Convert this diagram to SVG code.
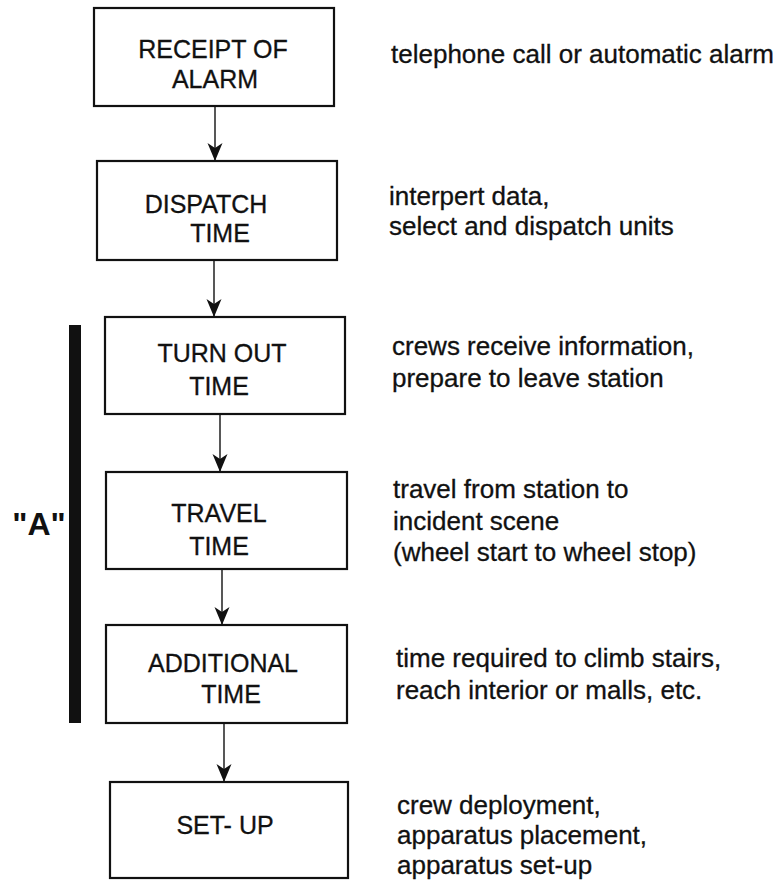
<svg xmlns="http://www.w3.org/2000/svg" width="783" height="882" viewBox="0 0 783 882">
<style>
.box{fill:#fff;stroke:#111;stroke-width:2.2}
.lbl{font-family:"Liberation Sans",Arial,sans-serif;font-size:25px;fill:#111;stroke:#111;stroke-width:0.3;text-anchor:middle}
.desc{font-family:"Liberation Sans",Arial,sans-serif;font-size:26px;fill:#111;stroke:#111;stroke-width:0.3}
.conn{stroke:#111;stroke-width:1.4;fill:none;marker-end:url(#ah)}
</style>
<defs>
<marker id="ah" markerUnits="userSpaceOnUse" markerWidth="20" markerHeight="16" refX="18" refY="7.5" orient="auto">
<path d="M0,0 L18,7.5 L0,15 L5,7.5 Z" fill="#111"/>
</marker>
</defs>
<rect width="783" height="882" fill="#fff"/>
<g id="connectors">
<line class="conn" x1="215" y1="106" x2="215" y2="161"/>
<line class="conn" x1="214" y1="260" x2="214" y2="317"/>
<line class="conn" x1="220" y1="414" x2="220" y2="472"/>
<line class="conn" x1="222" y1="569" x2="222" y2="625"/>
<line class="conn" x1="224" y1="723" x2="224" y2="782"/>
</g>
<g id="bracketA">
<rect x="69" y="325" width="12" height="398" fill="#111"/>
<text x="39" y="535" font-family="'Liberation Sans',Arial,sans-serif" font-size="32" font-weight="bold" fill="#111" text-anchor="middle">"A"</text>
</g>
<g id="receipt">
<rect class="box" x="94" y="8" width="240" height="98"/>
<text class="lbl" x="213" y="58">RECEIPT OF</text>
<text class="lbl" x="215" y="88">ALARM</text>
<text class="desc" x="391" y="63">telephone call or automatic alarm</text>
</g>
<g id="dispatch">
<rect class="box" x="97" y="161" width="240" height="99"/>
<text class="lbl" x="206" y="213">DISPATCH</text>
<text class="lbl" x="220" y="242">TIME</text>
<text class="desc" x="389" y="205">interpert data,</text>
<text class="desc" x="389" y="235">select and dispatch units</text>
</g>
<g id="turnout">
<rect class="box" x="105" y="317" width="240" height="97"/>
<text class="lbl" x="222" y="362">TURN OUT</text>
<text class="lbl" x="219" y="395">TIME</text>
<text class="desc" x="392" y="355">crews receive information,</text>
<text class="desc" x="392" y="387">prepare to leave station</text>
</g>
<g id="travel">
<rect class="box" x="106" y="472" width="241" height="97"/>
<text class="lbl" x="219" y="522">TRAVEL</text>
<text class="lbl" x="219" y="555">TIME</text>
<text class="desc" x="393" y="498">travel from station to</text>
<text class="desc" x="393" y="530">incident scene</text>
<text class="desc" x="393" y="561">(wheel start to wheel stop)</text>
</g>
<g id="additional">
<rect class="box" x="106" y="625" width="241" height="98"/>
<text class="lbl" x="223" y="672">ADDITIONAL</text>
<text class="lbl" x="231" y="703">TIME</text>
<text class="desc" x="396" y="667">time required to climb stairs,</text>
<text class="desc" x="396" y="699">reach interior or malls, etc.</text>
</g>
<g id="setup">
<rect class="box" x="110" y="782" width="238" height="96"/>
<text class="lbl" x="225" y="834">SET- UP</text>
<text class="desc" x="397" y="814">crew deployment,</text>
<text class="desc" x="397" y="844">apparatus placement,</text>
<text class="desc" x="397" y="874">apparatus set-up</text>
</g>
</svg>
